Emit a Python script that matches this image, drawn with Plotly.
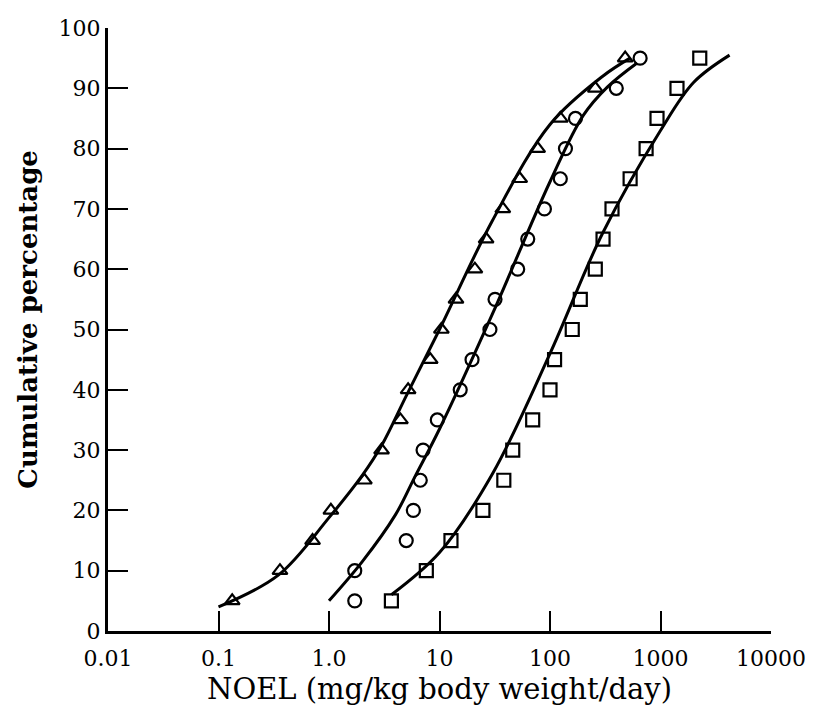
import plotly.graph_objects as go

# ---- data ----
pct = [5, 10, 15, 20, 25, 30, 35, 40, 45, 50, 55, 60, 65, 70, 75, 80, 85, 90, 95]

tri_x = [0.133, 0.36, 0.71, 1.04, 2.09, 2.99, 4.43, 5.2, 8.24, 10.4, 14.1, 20.9, 26.4, 37.4, 53.2, 77.3, 124, 257, 479]
circ_x = [1.71, 1.71, 5.0, 5.8, 6.7, 7.1, 9.55, 15.4, 19.7, 28.6, 31.8, 51, 62.9, 89, 124, 138, 170, 398, 654]
sq_x = [3.67, 7.6, 12.7, 24.7, 38.2, 46, 69.7, 100, 110, 159, 188, 257, 302, 364, 531, 741, 930, 1410, 2266]

# fitted curves
tri_fit_x = [0.1, 0.35, 1.0, 2.0, 3.0, 5.0, 10, 30, 100, 300, 530]
tri_fit_y = [4.0, 9.3, 18.8, 25.8, 30.8, 39, 50, 68, 84, 92, 95]
circ_fit_x = [1.0, 2.0, 4.0, 6.0, 10, 30, 100, 200, 330, 614]
circ_fit_y = [5.0, 11.5, 19.3, 25.6, 33.5, 52.5, 74.5, 85.5, 90.2, 94.2]
sq_fit_x = [3.67, 10, 30, 100, 300, 1000, 2000, 4217]
sq_fit_y = [6.0, 13, 26, 46, 66, 83, 91, 95.5]

x_tickvals = [0.01, 0.1, 1, 10, 100, 1000, 10000]
x_ticktext = ["0.01", "0.1", "1.0", "10", "100", "1000", "10000"]
y_tickvals = [0, 10, 20, 30, 40, 50, 60, 70, 80, 90, 100]

FONT = "DejaVu Serif"

fig = go.Figure()
for fx, fy in [(tri_fit_x, tri_fit_y), (circ_fit_x, circ_fit_y), (sq_fit_x, sq_fit_y)]:
    fig.add_trace(go.Scatter(x=fx, y=fy, mode="lines",
                             line=dict(color="black", width=3, shape="spline", smoothing=1.0),
                             showlegend=False, hoverinfo="skip"))

for xs, sym in [(tri_x, "triangle-up-open"), (circ_x, "circle-open"), (sq_x, "square-open")]:
    fig.add_trace(go.Scatter(x=xs, y=pct, mode="markers",
                             marker=dict(symbol=sym, size=13, color="black", line=dict(width=2.2, color="black")),
                             showlegend=False, cliponaxis=False))

fig.update_layout(
    width=818, height=711,
    margin=dict(l=108, r=43, t=28, b=80),
    paper_bgcolor="white", plot_bgcolor="white",
    font=dict(family=FONT, color="black", size=22),
    xaxis=dict(type="log", range=[-2, 4], tickvals=x_tickvals, ticktext=x_ticktext,
               showgrid=False, zeroline=False, showline=True, linecolor="black", linewidth=3,
               ticks="inside", ticklen=20, tickwidth=2, tickcolor="black",
               tickfont=dict(family=FONT, size=22), ticklabelstandoff=6),
    yaxis=dict(range=[0, 100], tickvals=y_tickvals,
               showgrid=False, zeroline=False, showline=True, linecolor="black", linewidth=3,
               ticks="inside", ticklen=20, tickwidth=2, tickcolor="black",
               tickfont=dict(family=FONT, size=22), ticklabelstandoff=0),
    annotations=[
        dict(text="NOEL (mg/kg body weight/day)", xref="paper", yref="paper",
             x=0.5, y=-0.097, xanchor="center", yanchor="middle", showarrow=False,
             font=dict(family=FONT, size=29)),
        dict(text="<b>Cumulative percentage</b>", xref="paper", yref="paper",
             x=-0.12, y=0.517, xanchor="center", yanchor="middle", showarrow=False,
             textangle=-90, font=dict(family=FONT, size=26)),
    ],
)

fig.write_html("out.html", config={"displayModeBar": False},
               post_script="document.body.style.margin='0';document.body.style.overflow='hidden';")
